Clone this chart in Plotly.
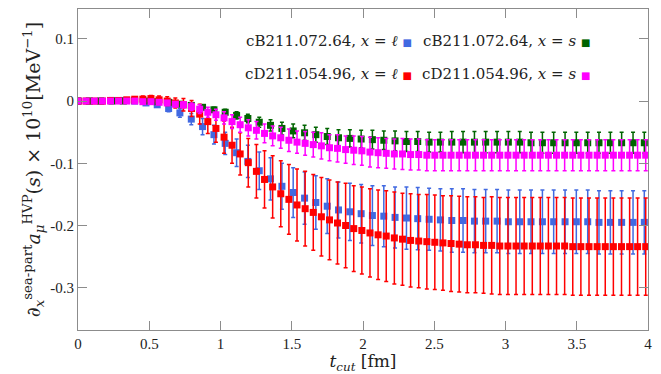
import plotly.graph_objects as go

# t_cut values (fm) on the two lattices
t_cB = [0.000, 0.079, 0.159, 0.238, 0.318, 0.397, 0.477, 0.556, 0.636, 0.715,
        0.795, 0.874, 0.954, 1.033, 1.113, 1.192, 1.272, 1.351, 1.431, 1.510,
        1.590, 1.669, 1.749, 1.828, 1.908, 1.987, 2.066, 2.146, 2.225, 2.305,
        2.384, 2.464, 2.543, 2.623, 2.702, 2.782, 2.861, 2.941, 3.020, 3.100,
        3.179, 3.259, 3.338, 3.418, 3.497, 3.577, 3.656, 3.736, 3.815, 3.895,
        3.974]
t_cD = [0.000, 0.057, 0.114, 0.171, 0.228, 0.285, 0.342, 0.398, 0.455, 0.512,
        0.569, 0.626, 0.683, 0.740, 0.797, 0.854, 0.911, 0.968, 1.025, 1.081,
        1.138, 1.195, 1.252, 1.309, 1.366, 1.423, 1.480, 1.537, 1.594, 1.651,
        1.708, 1.765, 1.821, 1.878, 1.935, 1.992, 2.049, 2.106, 2.163, 2.220,
        2.277, 2.334, 2.391, 2.448, 2.504, 2.561, 2.618, 2.675, 2.732, 2.789,
        2.846, 2.903, 2.960, 3.017, 3.074, 3.131, 3.188, 3.244, 3.301, 3.358,
        3.415, 3.472, 3.529, 3.586, 3.643, 3.700, 3.757, 3.814, 3.871, 3.927,
        3.984]

# cB211.072.64, x = l
cB_l = [0.000, 0.000, 0.000, 0.001, 0.001, 0.000, -0.003, -0.006, -0.012, -0.019,
        -0.029, -0.041, -0.054, -0.068, -0.083, -0.097, -0.112, -0.125, -0.137, -0.147,
        -0.156, -0.163, -0.169, -0.175, -0.178, -0.181, -0.184, -0.185, -0.187, -0.188,
        -0.189, -0.190, -0.191, -0.192, -0.192, -0.193, -0.193, -0.193, -0.194, -0.194,
        -0.194, -0.194, -0.194, -0.194, -0.194, -0.194, -0.195, -0.195, -0.195, -0.195,
        -0.195]
cB_l_err = [0.000, 0.000, 0.001, 0.001, 0.001, 0.002, 0.003, 0.004, 0.005, 0.007,
            0.009, 0.013, 0.015, 0.018, 0.022, 0.026, 0.030, 0.034, 0.037, 0.040,
            0.042, 0.043, 0.044, 0.045, 0.046, 0.047, 0.048, 0.049, 0.049, 0.050,
            0.050, 0.050, 0.050, 0.051, 0.051, 0.051, 0.051, 0.051, 0.051, 0.051,
            0.051, 0.051, 0.051, 0.051, 0.051, 0.051, 0.051, 0.051, 0.051, 0.051,
            0.051]

# cB211.072.64, x = s
cB_s = [0.000, 0.000, 0.000, 0.000, 0.000, 0.001, 0.000, -0.001, -0.002, -0.005,
        -0.007, -0.010, -0.014, -0.018, -0.023, -0.028, -0.034, -0.039, -0.044, -0.048,
        -0.051, -0.054, -0.057, -0.059, -0.060, -0.061, -0.062, -0.063, -0.064, -0.065,
        -0.065, -0.066, -0.066, -0.066, -0.066, -0.066, -0.066, -0.066, -0.066, -0.066,
        -0.067, -0.067, -0.067, -0.067, -0.067, -0.067, -0.067, -0.067, -0.067, -0.067,
        -0.067]
cB_s_err = [0.000, 0.000, 0.000, 0.000, 0.000, 0.001, 0.001, 0.001, 0.002, 0.002,
            0.003, 0.003, 0.004, 0.005, 0.006, 0.007, 0.008, 0.009, 0.010, 0.011,
            0.012, 0.012, 0.013, 0.013, 0.014, 0.014, 0.015, 0.015, 0.016, 0.016,
            0.016, 0.016, 0.016, 0.017, 0.017, 0.017, 0.017, 0.017, 0.017, 0.017,
            0.017, 0.017, 0.017, 0.017, 0.017, 0.017, 0.017, 0.017, 0.017, 0.017,
            0.017]

# cD211.054.96, x = l
cD_l = [0.000, 0.000, 0.000, 0.000, 0.001, 0.001, 0.002, 0.003, 0.003, 0.004,
        0.002, 0.000, -0.003, -0.006, -0.012, -0.021, -0.033, -0.044, -0.058, -0.071,
        -0.085, -0.099, -0.113, -0.126, -0.138, -0.149, -0.158, -0.167, -0.173, -0.179,
        -0.186, -0.191, -0.196, -0.200, -0.205, -0.208, -0.212, -0.215, -0.217, -0.220,
        -0.222, -0.224, -0.225, -0.226, -0.227, -0.228, -0.229, -0.230, -0.231, -0.231,
        -0.232, -0.232, -0.233, -0.233, -0.233, -0.233, -0.233, -0.233, -0.233, -0.233,
        -0.233, -0.234, -0.234, -0.234, -0.234, -0.234, -0.234, -0.234, -0.234, -0.234,
        -0.234]
cD_l_err = [0.000, 0.000, 0.000, 0.000, 0.001, 0.002, 0.003, 0.004, 0.005, 0.005,
            0.006, 0.007, 0.008, 0.010, 0.013, 0.016, 0.019, 0.022, 0.026, 0.029,
            0.034, 0.039, 0.043, 0.046, 0.050, 0.053, 0.056, 0.058, 0.060, 0.061,
            0.063, 0.064, 0.066, 0.068, 0.069, 0.070, 0.071, 0.072, 0.073, 0.074,
            0.074, 0.075, 0.075, 0.076, 0.076, 0.076, 0.077, 0.077, 0.077, 0.077,
            0.077, 0.078, 0.078, 0.078, 0.078, 0.078, 0.078, 0.078, 0.078, 0.078,
            0.078, 0.078, 0.078, 0.078, 0.078, 0.078, 0.078, 0.078, 0.078, 0.078,
            0.078]

# cD211.054.96, x = s
cD_s = [0.000, 0.000, 0.000, 0.000, 0.000, 0.000, 0.000, 0.000, -0.001, -0.001,
        -0.002, -0.003, -0.005, -0.006, -0.009, -0.013, -0.018, -0.022, -0.027, -0.033,
        -0.038, -0.043, -0.047, -0.052, -0.056, -0.059, -0.063, -0.066, -0.068, -0.070,
        -0.072, -0.075, -0.076, -0.078, -0.079, -0.080, -0.082, -0.083, -0.084, -0.085,
        -0.085, -0.086, -0.086, -0.087, -0.087, -0.087, -0.087, -0.087, -0.087, -0.087,
        -0.087, -0.087, -0.087, -0.087, -0.087, -0.087, -0.087, -0.087, -0.087, -0.087,
        -0.087, -0.087, -0.087, -0.087, -0.087, -0.087, -0.087, -0.087, -0.087, -0.087,
        -0.087]
cD_s_err = [0.000, 0.000, 0.000, 0.000, 0.000, 0.001, 0.001, 0.001, 0.001, 0.002,
            0.002, 0.003, 0.004, 0.005, 0.006, 0.007, 0.008, 0.009, 0.010, 0.011,
            0.012, 0.013, 0.014, 0.015, 0.016, 0.017, 0.018, 0.018, 0.019, 0.020,
            0.021, 0.021, 0.022, 0.022, 0.023, 0.023, 0.024, 0.024, 0.024, 0.024,
            0.025, 0.025, 0.025, 0.025, 0.025, 0.025, 0.025, 0.025, 0.025, 0.025,
            0.025, 0.025, 0.025, 0.025, 0.025, 0.025, 0.025, 0.025, 0.025, 0.025,
            0.025, 0.025, 0.025, 0.025, 0.025, 0.025, 0.025, 0.025, 0.025, 0.025,
            0.025]

x_ticks = [0, 0.5, 1, 1.5, 2, 2.5, 3, 3.5, 4]
x_ticktext = ["0", "0.5", "1", "1.5", "2", "2.5", "3", "3.5", "4"]
y_ticks = [-0.3, -0.2, -0.1, 0, 0.1]
y_ticktext = ["-0.3", "-0.2", "-0.1", "0", "0.1"]

series = [
    ("cB211.072.64, x = ℓ", t_cB, cB_l, cB_l_err, "#4169e1"),
    ("cB211.072.64, x = s", t_cB, cB_s, cB_s_err, "#006400"),
    ("cD211.054.96, x = ℓ", t_cD, cD_l, cD_l_err, "#ff0000"),
    ("cD211.054.96, x = s", t_cD, cD_s, cD_s_err, "#ff00ff"),
]

FONT = "Liberation Serif, DejaVu Serif, serif"
WIDE_FONT = "DejaVu Serif, serif"
AXIS_COLOR = "#8c8c8c"

fig = go.Figure()
for name, t, y, err, color in series:
    fig.add_trace(go.Scatter(
        x=t, y=y, name=name, mode="markers",
        marker=dict(symbol="square", size=7, color=color),
        error_y=dict(type="data", array=err, color=color, thickness=1.5, width=2),
        showlegend=False,
    ))

# gnuplot-style key: text first, sample point after it
legend_rows = [
    (0.9015, [("cB211.072.64, <i>x</i> = <i>ℓ</i>", "#4169e1", 0.590),
              ("cB211.072.64, <i>x</i> = <i>s</i>", "#006400", 0.902)]),
    (0.797, [("cD211.054.96, <i>x</i> = <i>ℓ</i>", "#ff0000", 0.590),
             ("cD211.054.96, <i>x</i> = <i>s</i>", "#ff00ff", 0.902)]),
]
for ypos, entries in legend_rows:
    for label, color, xpos in entries:
        fig.add_annotation(
            x=xpos, y=ypos, xref="paper", yref="paper",
            xanchor="right", yanchor="middle", showarrow=False,
            text=label + " <span style='color:%s;font-size:10px'>■</span>" % color,
            font=dict(family=WIDE_FONT, size=15, color="#222"),
        )

fig.update_layout(
    width=661, height=374,
    margin=dict(l=78, r=13, t=8, b=41),
    paper_bgcolor="white", plot_bgcolor="white",
    font=dict(family=FONT, size=15, color="#222"),
    xaxis=dict(
        range=[0, 4], tickvals=x_ticks, ticktext=x_ticktext,
        showline=True, mirror="ticks", linecolor=AXIS_COLOR, linewidth=1,
        ticks="inside", ticklen=9, tickcolor=AXIS_COLOR, showgrid=False, zeroline=False,
        tickfont=dict(family=FONT, size=15),
        title=dict(text="<i>t</i><sub><i>cut</i></sub> [fm]",
                   font=dict(family=WIDE_FONT, size=17), standoff=2),
    ),
    yaxis=dict(
        range=[-0.368, 0.148], tickvals=y_ticks, ticktext=y_ticktext,
        showline=True, mirror="ticks", linecolor=AXIS_COLOR, linewidth=1,
        ticks="inside", ticklen=9, tickcolor=AXIS_COLOR, showgrid=False, zeroline=False,
        tickfont=dict(family=FONT, size=15),
        title=dict(
            text="<i>∂</i><sub><i>x</i></sub><sup>sea-part</sup><i>a</i><sub><i>μ</i></sub>"
                 "<sup>HVP</sup>(<i>s</i>) × 10<sup>10</sup>[MeV<sup>−1</sup>]",
            font=dict(family=WIDE_FONT, size=19), standoff=4),
    ),
)

fig.write_html("out.html", config={"displayModeBar": False},
               post_script="document.body.style.margin='0';")
